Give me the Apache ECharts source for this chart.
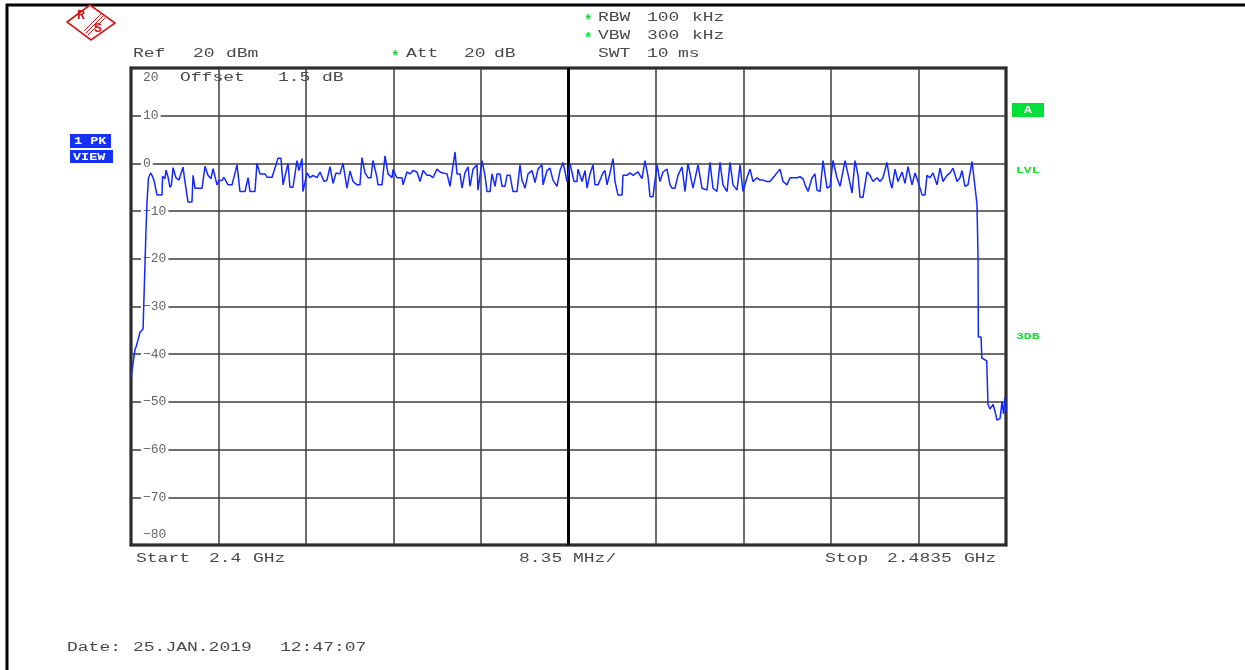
<!DOCTYPE html>
<html><head><meta charset="utf-8">
<script src="https://cdn.jsdelivr.net/npm/echarts@6/dist/echarts.min.js"></script>
<style>html,body{margin:0;padding:0;background:#fff}#c{width:1245px;height:670px}</style>
</head><body><div id="c"></div><script>
// Sweep: 2.4 GHz .. 2.4835 GHz, offsets from start in MHz
const freqOffsetMHz = [
0.00,0.19,0.38,0.48,0.67,0.86,1.15,1.43,1.53,1.67,
1.88,2.00,2.19,2.48,2.96,3.01,3.24,3.34,3.53,3.72,
3.86,4.01,4.29,4.58,4.96,5.15,5.44,5.82,5.92,6.11,
6.78,7.06,7.35,7.63,7.83,8.21,8.40,8.68,8.87,9.26,
9.64,10.12,10.40,10.88,11.17,11.36,11.83,12.02,12.31,12.79,
12.98,13.46,13.65,14.03,14.31,14.51,14.98,15.17,15.46,15.84,
16.03,16.32,16.41,16.80,17.08,17.37,17.75,18.04,18.42,18.70,
18.99,19.28,19.56,19.94,20.23,20.61,20.90,21.19,21.57,21.85,
22.04,22.33,22.62,22.90,23.09,23.48,23.57,23.95,24.24,24.53,
24.91,25.00,25.38,25.86,25.96,26.34,26.62,26.91,27.29,27.58,
27.87,28.25,28.53,28.82,29.20,29.49,29.77,30.16,30.44,30.92,
31.11,31.40,31.59,31.87,32.16,32.35,32.64,33.02,33.11,33.50,
33.78,33.97,34.26,34.45,34.74,34.93,35.21,35.41,35.69,35.88,
36.17,36.45,36.84,37.12,37.31,37.60,37.89,38.27,38.55,38.84,
39.22,39.32,39.70,39.98,40.27,40.65,40.94,41.23,41.61,41.89,
42.08,42.28,42.56,42.66,43.04,43.33,43.52,43.80,44.09,44.28,
44.57,44.76,45.04,45.23,45.42,45.71,46.00,46.19,46.47,46.86,
46.95,47.33,47.62,47.91,48.10,48.38,48.76,49.05,49.34,49.53,
49.81,50.20,50.48,50.77,51.15,51.44,51.63,51.91,52.20,52.58,
52.87,53.06,53.15,53.63,54.11,54.49,54.59,54.97,55.25,55.54,
55.92,56.21,56.49,56.88,57.16,57.45,57.83,58.12,58.40,58.78,
59.07,59.36,59.74,60.02,60.31,60.69,60.98,61.27,61.93,62.22,
62.60,62.89,63.17,63.56,63.84,64.13,64.32,64.61,64.99,65.27,
65.46,65.75,66.04,66.42,66.71,66.99,67.37,67.66,68.14,68.42,
68.81,69.09,69.38,69.57,69.85,70.24,70.52,70.81,71.19,71.48,
71.76,72.14,72.43,72.62,72.91,73.19,73.58,73.86,74.15,74.53,
74.82,75.10,75.49,75.77,75.96,76.25,76.53,76.92,77.20,77.49,
77.87,78.16,78.44,78.83,79.11,79.30,79.59,79.87,80.26,80.45,
80.54,80.70,80.73,80.83,80.86,81.12,81.19,81.66,81.78,81.97,
82.07,82.26,82.45,82.64,82.93,83.12,83.26,83.41,83.50
];
const levelDbm = [
-44.8,-42.0,-39.0,-38.5,-37.0,-35.4,-34.7,-14,-8,-3,
-2.0,-2.5,-3.5,-6.6,-6.6,-2.7,-3.2,-1.4,-2.8,-5.0,
-4.5,-0.9,-3.0,-3.5,-0.8,-3.8,-8.1,-8.1,-2.5,-5.2,
-5.2,-0.6,-2.5,-3.2,-1.1,-4.5,-3.6,-3.6,-2.9,-4.5,
-4.5,-0.3,-5.9,-5.9,-3.0,-5.9,-5.9,0.0,-2.2,-2.2,
-2.9,-2.9,-3.2,1.1,1.1,-4.5,0.0,-5.0,-5.0,0.6,
-1.5,1.0,-5.9,-2.0,-3.0,-2.5,-3.0,-1.8,-3.8,-3.5,
-0.7,-4.2,-2.0,-2.2,0.0,-5.2,-1.6,-3.8,-4.5,-4.5,
1.2,-2.0,-3.0,-3.0,0.6,-3.0,-4.5,-4.5,1.6,-2.2,
-3.0,-1.3,-3.0,-3.0,-4.5,-1.8,-2.2,-1.5,-1.8,-3.8,
-1.5,-2.5,-2.5,-3.0,-1.2,-1.8,-2.0,-2.2,-4.8,2.4,
-2.2,-2.2,-5.2,-2.0,-0.7,-4.8,-1.2,-0.3,-5.6,0.6,
-2.5,-5.9,-5.9,-2.2,-4.8,-2.2,-2.2,-4.8,-4.8,-2.5,
-2.5,-5.9,-5.9,-0.3,-3.5,-5.2,-2.2,-1.5,-4.0,-1.2,
-0.3,-4.5,-1.5,-1.0,-3.5,-4.8,-1.5,0.2,-3.8,0.0,
-0.2,-3.8,-3.8,-1.2,-3.8,-1.5,-5.2,-2.2,-0.3,-4.5,
-4.5,-4.8,-2.0,-1.5,-4.5,-2.0,1.0,-3.8,-6.6,-6.6,
-2.5,-2.5,-2.0,-2.5,-2.2,-1.8,-3.2,0.6,-2.8,-7.0,
-7.0,-0.3,-3.8,-1.8,-1.2,-4.5,-5.2,-5.2,-2.5,-0.7,
-5.9,-5.9,0.0,-5.2,-0.3,-5.2,-5.6,-5.6,0.2,-5.2,
-5.9,0.2,-4.5,-5.9,0.2,-4.5,-5.6,-0.3,-5.9,-3.0,
-1.2,-3.8,-3.0,-3.5,-3.5,-3.8,-3.8,-3.0,-1.2,-3.8,
-4.5,-3.0,-3.0,-3.0,-2.8,-3.2,-4.5,-5.9,-3.0,-2.2,
-5.6,-5.9,0.6,-5.2,-4.8,0.6,-3.0,-4.8,0.6,-2.2,
-6.2,0.6,-2.5,-7.1,-7.1,-1.8,-2.5,-3.8,-3.0,-3.8,
-3.0,0.2,-3.8,-5.2,-1.2,-3.8,-1.8,-4.2,-0.7,-4.5,
-2.0,-3.8,-6.6,-6.6,-2.5,-3.0,-2.0,-4.5,-1.0,-3.8,
-2.5,-2.0,-1.0,-3.8,-3.0,-1.5,-4.8,-4.5,0.4,0.4,
-4.9,-4.5,-8.5,-19.6,-36.4,-36.4,-40.8,-41.4,-50.5,-51.5,
-51.7,-50.5,-52.0,-53.8,-53.5,-50.0,-52.5,-49.0,-52.0
];
const spanMHz = 83.5;
const divMHz = 8.35;
const centerMHz = 41.75;
const yMin = -80, yMax = 20, yStep = 10;

const MONO = '"Liberation Mono", "DejaVu Sans Mono", monospace';
function txt(s, x, y, opt) {
  opt = opt || {};
  return {
    type: 'text', x: x, y: y, scaleX: opt.sx || 1.5, silent: true, z: 20,
    style: {
      text: s, fill: opt.color || '#4a4a4a',
      font: (opt.weight || 'normal') + ' ' + (opt.size || 12) + 'px ' + MONO,
      textAlign: 'left', textVerticalAlign: 'middle', align: 'left', verticalAlign: 'middle'
    }
  };
}
const GREEN = '#11dd33';
const BLUE_BOX = '#1432f5';

const graphics = [
  // outer frame lines
  {type:'line', silent:true, shape:{x1:6, y1:5, x2:1245, y2:5}, style:{stroke:'#000', lineWidth:3}},
  {type:'line', silent:true, shape:{x1:7, y1:4, x2:7, y2:670}, style:{stroke:'#000', lineWidth:3}},
  // R&S logo
  {type:'polygon', silent:true, shape:{points:[[67,22],[90,5],[115,23],[91,40]]}, style:{fill:'#fff', stroke:'#d01818', lineWidth:1.6}},
  {type:'line', silent:true, shape:{x1:84, y1:31, x2:101, y2:14}, style:{stroke:'#d01818', lineWidth:1}},
  {type:'line', silent:true, shape:{x1:86, y1:33, x2:103, y2:16}, style:{stroke:'#d01818', lineWidth:1}},
  {type:'line', silent:true, shape:{x1:88, y1:35, x2:105, y2:18}, style:{stroke:'#d01818', lineWidth:1}},
  txt('R', 77, 16, {color:'#d01818', size:12, weight:'bold', sx:1.1}),
  txt('S', 94, 29, {color:'#d01818', size:12, weight:'bold', sx:1.1}),
  // header
  txt('*', 584, 21, {color:GREEN, size:14, weight:'bold', sx:1.0}), txt('RBW', 598, 18), txt('100', 647, 18), txt('kHz', 692, 18),
  txt('*', 584, 39, {color:GREEN, size:14, weight:'bold', sx:1.0}), txt('VBW', 598, 36), txt('300', 647, 36), txt('kHz', 692, 36),
  txt('SWT', 598, 54), txt('10', 647, 54), txt('ms', 678, 54),
  txt('Ref', 133, 54), txt('20', 193, 54), txt('dBm', 226, 54),
  txt('*', 391, 57, {color:GREEN, size:14, weight:'bold', sx:1.0}), txt('Att', 406, 54), txt('20', 464, 54), txt('dB', 494, 54),
  // in-plot header
  txt('Offset', 180, 78), txt('1.5', 278, 78), txt('dB', 322, 78),
  // left boxes
  {type:'rect', silent:true, shape:{x:70, y:134, width:41, height:14}, style:{fill:BLUE_BOX}},
  txt('1 PK', 74, 141, {color:'#fff', size:10, weight:'bold', sx:1.35}),
  {type:'rect', silent:true, shape:{x:70, y:150, width:43, height:13}, style:{fill:BLUE_BOX}},
  txt('VIEW', 73, 157, {color:'#fff', size:10, weight:'bold', sx:1.35}),
  // right markers
  {type:'rect', silent:true, shape:{x:1012, y:103, width:32, height:14}, style:{fill:'#00e03a'}},
  txt('A', 1024, 110, {color:'#fff', size:10, weight:'bold', sx:1.3}),
  txt('LVL', 1016, 171, {color:GREEN, size:9, weight:'bold', sx:1.45}),
  txt('3DB', 1016, 337, {color:GREEN, size:9, weight:'bold', sx:1.45}),
  // footer
  txt('Start', 136, 559), txt('2.4', 209, 559), txt('GHz', 253, 559),
  txt('8.35', 519, 559), txt('MHz/', 573, 559),
  txt('Stop', 825, 559), txt('2.4835', 887, 559), txt('GHz', 964, 559),
  txt('Date:', 67, 648), txt('25.JAN.2019', 133, 648), txt('12:47:07', 280, 648)
];

const chart = echarts.init(document.getElementById('c'));
chart.setOption({
  animation: false,
  backgroundColor: '#fff',
  grid: {left: 131, top: 68, width: 875, height: 477, show: true, borderColor: '#000', borderWidth: 3, backgroundColor: 'transparent'},
  xAxis: {
    type: 'value', min: 0, max: spanMHz, interval: divMHz,
    axisLine: {show: false}, axisTick: {show: false}, axisLabel: {show: false},
    splitLine: {show: true, lineStyle: {color: '#3c3c3c', width: 1.5}}
  },
  yAxis: {
    type: 'value', min: yMin, max: yMax, interval: yStep,
    axisLine: {show: false}, axisTick: {show: false},
    splitLine: {show: true, lineStyle: {color: '#3c3c3c', width: 1.5}},
    axisLabel: {
      inside: true, margin: 10, color: '#666', fontFamily: MONO, fontSize: 13,
      formatter: function (v) {
        const s = v < 0 ? '\u2212' + (-v) : String(v);
        if (v === yMax) return '{t|' + s + '}';
        if (v === yMin) return '{b|' + s + '}';
        return '{n|' + s + '}';
      },
      rich: {
        n: {backgroundColor: '#fff', padding: [1, 2, 1, 2], color: '#666', fontFamily: MONO, fontSize: 13},
        t: {padding: [20, 2, 0, 2], color: '#666', fontFamily: MONO, fontSize: 13},
        b: {padding: [0, 2, 20, 2], color: '#666', fontFamily: MONO, fontSize: 13}
      }
    }
  },
  graphic: graphics,
  series: [{
    type: 'line', showSymbol: false, z: 5, clip: true,
    data: freqOffsetMHz.map(function (f, i) { return [f, levelDbm[i]]; }),
    lineStyle: {color: '#1428ff', width: 1.5},
    markLine: {
      silent: true, symbol: 'none', label: {show: false},
      lineStyle: {color: '#000', width: 3, type: 'solid'},
      data: [{xAxis: centerMHz}]
    }
  }]
});
</script></body></html>
